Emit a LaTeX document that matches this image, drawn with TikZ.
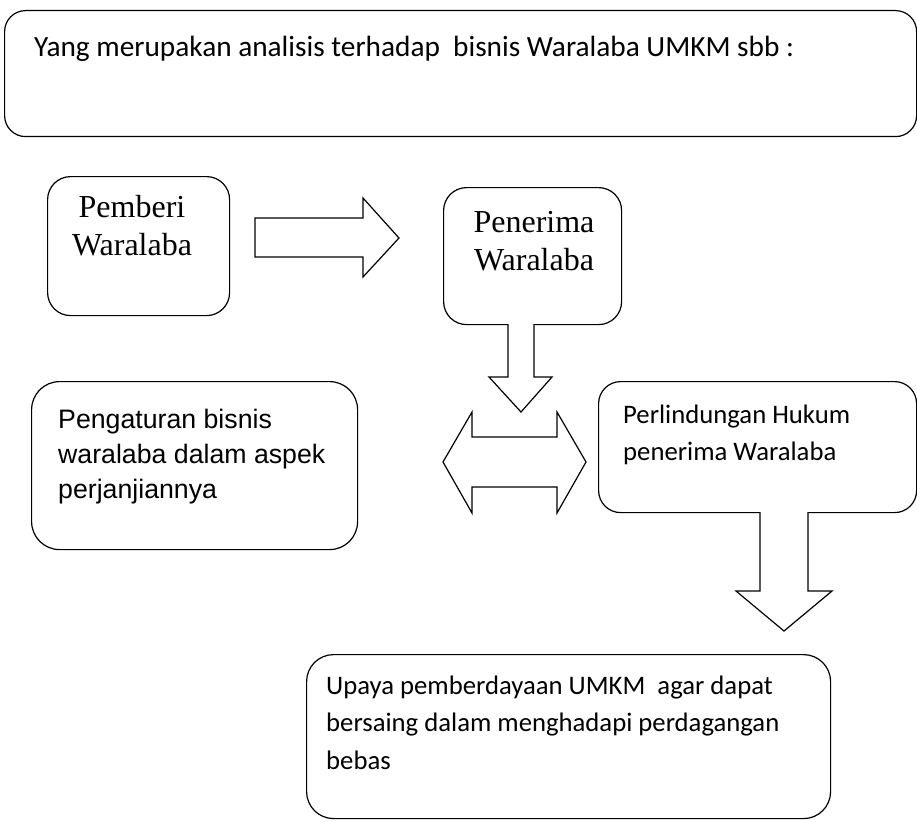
\documentclass[tikz,border=0pt]{standalone}
\usepackage{fontspec}
\setmainfont{Carlito}
\newfontfamily\serifface{Liberation Serif}
\newfontfamily\arialface{Liberation Sans}
% explicitly broken lines, natural word spacing
\newcommand\leftlines[2]{\parbox[t]{#1}{\raggedright #2}}
\newcommand\centrelines[2]{\parbox[t]{#1}{\centering #2}}
\begin{document}
\begin{tikzpicture}[x=1pt,y=-1pt,
  box/.style={draw=black, line width=1.2pt, rounded corners=#1, inner sep=0pt,
    anchor=north west},
  blockarrow/.style={draw=black, line width=1.2pt, fill=white, line join=miter},
  headtext/.style={inner sep=0pt, anchor=base west,
    font=\fontsize{29.3}{36}\selectfont},
  bodytext/.style={inner sep=0pt, anchor=base west,
    font=\fontsize{26.7}{37.5}\selectfont},
  serifcentre/.style={inner sep=0pt, anchor=base,
    font=\serifface\fontsize{32}{38}\selectfont},
  arialtext/.style={inner sep=0pt, anchor=base west,
    font=\arialface\fontsize{26.7}{35}\selectfont}]
\useasboundingbox (0,0) rectangle (917,821);

% boxes
\node[box=21pt, minimum width=912pt, minimum height=126pt] (intro) at (4,10) {};
\node[box=23pt, minimum width=182pt, minimum height=139pt] (giver) at (47,176) {};
\node[box=23pt, minimum width=178pt, minimum height=137pt] (taker) at (443,187) {};
\node[box=28pt, minimum width=326pt, minimum height=168pt] (rules) at (31,381) {};
\node[box=22pt, minimum width=318pt, minimum height=131pt] (law) at (598,381) {};
\node[box=27pt, minimum width=524pt, minimum height=164pt] (umkm) at (306,654) {};

% texts
\node[headtext] (introtext) at (34,57)
  {Yang merupakan analisis terhadap\ \ bisnis Waralaba UMKM sbb :};
\node[serifcentre] (givertext) at (132,217) {\centrelines{182pt}{Pemberi\\Waralaba}};
\node[serifcentre] (takertext) at (534,232) {\centrelines{178pt}{Penerima\\Waralaba}};
\node[arialtext] (rulestext) at (58,428)
  {\leftlines{295pt}{Pengaturan bisnis\\waralaba dalam aspek\\perjanjiannya}};
\node[bodytext] (lawtext) at (623,423)
  {\leftlines{290pt}{Perlindungan Hukum\\penerima Waralaba}};
\node[bodytext] (umkmtext) at (326,694)
  {\leftlines{500pt}{Upaya pemberdayaan UMKM\ \ agar dapat\\bersaing dalam menghadapi perdagangan\\bebas}};

% block arrows
\draw[blockarrow] (255,218) -- (363,218) -- (363,198) -- (399,238) -- (363,277)
  -- (363,257) -- (255,257) -- cycle;
\draw[blockarrow] (508,324) -- (508,377) -- (489,377) -- (521,412) -- (552,377)
  -- (534,377) -- (534,324);
\draw[blockarrow] (443,462) -- (472,412) -- (472,437) -- (557,437) -- (557,412)
  -- (586,462) -- (557,513) -- (557,487) -- (472,487) -- (472,513) -- cycle;
\draw[blockarrow] (760,512) -- (760,591) -- (736,591) -- (784,631) -- (832,591)
  -- (808,591) -- (808,512);
\end{tikzpicture}
\end{document}
